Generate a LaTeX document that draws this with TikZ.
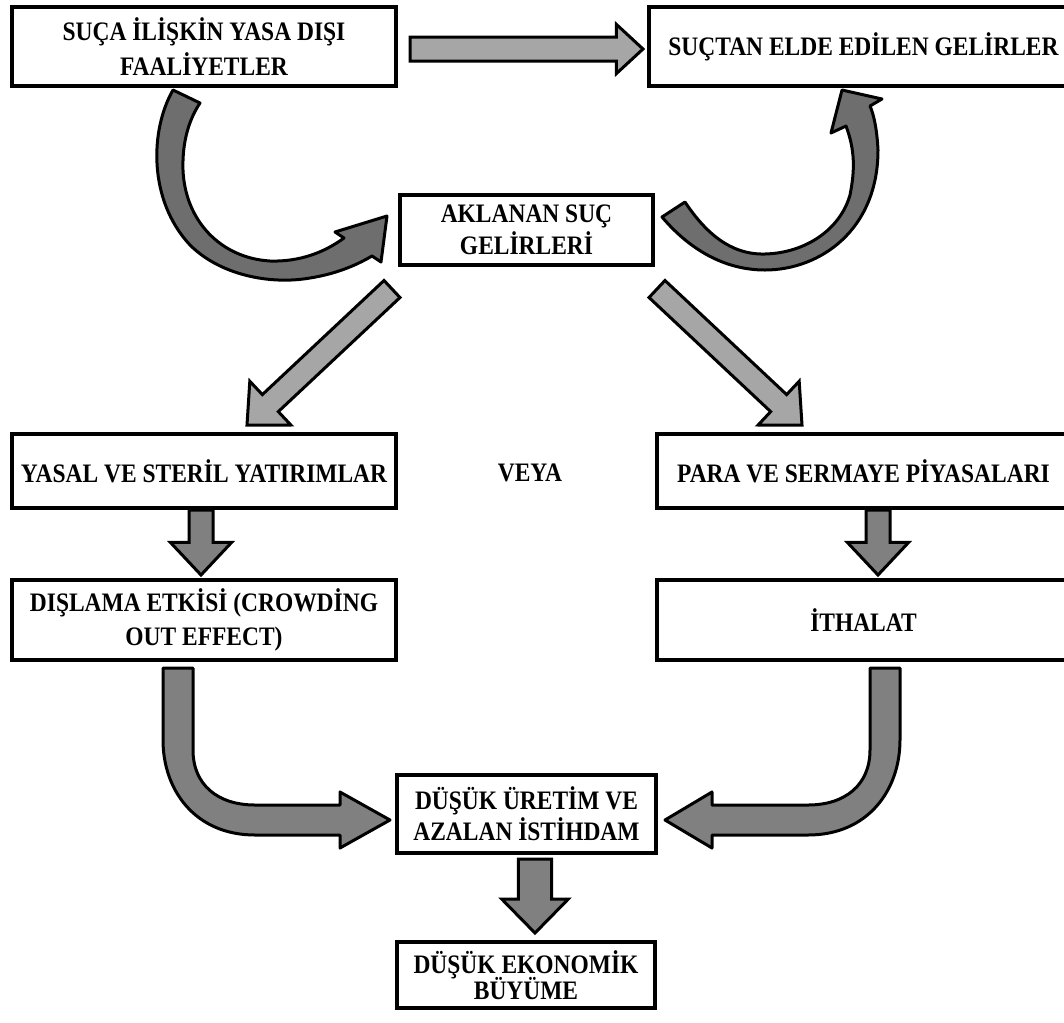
\documentclass[tikz,border=0pt]{standalone}
\usepackage{fontspec}
\setmainfont{Liberation Serif}[FakeStretch=0.88]
\usetikzlibrary{calc}
\definecolor{lightfill}{HTML}{A6A6A6}
\definecolor{midfill}{HTML}{808080}
\definecolor{darkfill}{HTML}{6E6E6E}
% #1 style, #2 from, #3 to, #4 shaft half width, #5 head half width, #6 head length
\newcommand\blkarrow[6]{%
  \coordinate (ba-h) at ($(#3)!#6!(#2)$);
  \draw[#1] ($(#2)!#4!90:(#3)$) -- ($(ba-h)!#4!-90:(#2)$) -- ($(ba-h)!#5!-90:(#2)$) -- (#3)
    -- ($(ba-h)!#5!90:(#2)$) -- ($(ba-h)!#4!90:(#2)$) -- ($(#2)!#4!-90:(#3)$) -- cycle;
}
\begin{document}
\begin{tikzpicture}[x=0.75pt,y=-0.75pt,
  box/.style={draw, line width=3pt, fill=white, align=center, inner sep=0pt,
    font=\bfseries\fontsize{20}{24}\selectfont},
  plain/.style={align=center, inner sep=0pt, font=\bfseries\fontsize{20}{24}\selectfont},
  lightarrow/.style={draw, line width=2.25pt, fill=lightfill, line join=miter},
  midarrow/.style={draw, line width=2.25pt, fill=midfill, line join=miter},
  bendarrow/.style={draw, line width=2.25pt, fill=midfill, line join=round},
  curlarrow/.style={draw, line width=2.25pt, fill=darkfill, line join=round}]
\useasboundingbox (0,0) rectangle (1064,1022);

% boxes
\node[box, minimum width=288pt, minimum height=59.25pt] (b1) at (204,46.5)
  {SUÇA İLİŞKİN YASA DIŞI\\[2.25pt]FAALİYETLER};
\node[box, minimum width=321.75pt, minimum height=59.25pt] (b2) at (863.5,46.5)
  {SUÇTAN ELDE EDİLEN GELİRLER};
\node[box, minimum width=189.75pt, minimum height=52.5pt] (b3) at (526.5,230)
  {AKLANAN SUÇ\\GELİRLERİ};
\node[box, minimum width=288pt, minimum height=55.5pt] (b4) at (204,471)
  {YASAL VE STERİL YATIRIMLAR};
\node[plain] (veya) at (530,473) {VEYA};
\node[box, minimum width=309.75pt, minimum height=55.5pt] (b5) at (863.5,471)
  {PARA VE SERMAYE PİYASALARI};
\node[box, minimum width=288pt, minimum height=60pt] (b6) at (204,620)
  {DIŞLAMA ETKİSİ (CROWDİNG\\[1.5pt]OUT EFFECT)};
\node[box, minimum width=309.75pt, minimum height=60pt] (b7) at (863.5,620)
  {İTHALAT};
\node[box, minimum width=194.25pt, minimum height=58.5pt] (b8) at (526.5,814)
  {DÜŞÜK ÜRETİM VE\\[-0.75pt]AZALAN İSTİHDAM};
\node[box, minimum width=193.5pt, minimum height=49.5pt] (b9) at (526,975)
  {DÜŞÜK EKONOMİK\\[-4.5pt]BÜYÜME};

% straight block arrows
\coordinate (h1s) at ($(b1.east)+(12,2.5)$);
\coordinate (h1e) at ($(b2.west)+(-4,2.5)$);
\blkarrow{lightarrow}{h1s}{h1e}{9pt}{18.5pt}{20pt}

\coordinate (dls) at ($(b3.south west)+(-6,22)$);
\coordinate (dle) at ($(b4.north)+(43,-7)$);
\blkarrow{lightarrow}{dls}{dle}{8.75pt}{22.5pt}{24pt}

\coordinate (drs) at ($(b3.south east)+(2,22)$);
\coordinate (dre) at ($(b5.north)+(-61.5,-7)$);
\blkarrow{lightarrow}{drs}{dre}{8.75pt}{22.5pt}{24pt}

\coordinate (v1s) at ($(b4.south)+(-3,0)$);
\coordinate (v1e) at ($(b6.north)+(-3,-3)$);
\blkarrow{midarrow}{v1s}{v1e}{9pt}{23pt}{24.5pt}

\coordinate (v2s) at ($(b5.south)+(14.5,0)$);
\coordinate (v2e) at ($(b7.north)+(14.5,-3)$);
\blkarrow{midarrow}{v2s}{v2e}{9pt}{23pt}{24.5pt}

\coordinate (v3s) at ($(b8.south)+(8.5,4)$);
\coordinate (v3e) at ($(b9.north)+(9,-7)$);
\blkarrow{midarrow}{v3s}{v3e}{12.5pt}{25pt}{25.5pt}

% curved arrow: b1 -> b3
\draw[curlarrow] (173,90) .. controls (150,130) and (148,200) .. (190,245)
  .. controls (220,275) and (270,285) .. (310,278)
  .. controls (335,274) and (355,266) .. (372,256)
  -- (381,262) -- (387,216) -- (335,232) -- (344,238)
  .. controls (325,252) and (300,262) .. (270,261)
  .. controls (220,258) and (185,220) .. (183,170)
  .. controls (182,140) and (190,118) .. (200,103) -- cycle;

% curved arrow: b3 -> b2
\draw[curlarrow] (662,217) .. controls (690,250) and (725,270) .. (765,270)
  .. controls (820,270) and (878,230) .. (878,150)
  .. controls (877,130) and (874,115) .. (870,106)
  -- (882,99) -- (842,90) -- (831,133) -- (846,126)
  .. controls (855,150) and (855,170) .. (850,195)
  .. controls (840,230) and (805,253) .. (765,254)
  .. controls (730,255) and (705,232) .. (685,202) -- cycle;

% bent arrows into b8
\draw[bendarrow] (163,668) -- (163,740) .. controls (163,790) and (195,835) .. (255,835)
  -- (340,835) -- (340,848) -- (390,820) -- (340,792) -- (340,805) -- (255,805)
  .. controls (218,805) and (193,785) .. (193,750) -- (193,668) -- cycle;
\draw[bendarrow] (900,668) -- (900,740) .. controls (900,790) and (868,835) .. (808,835)
  -- (712,835) -- (712,848) -- (665,820) -- (712,792) -- (712,805) -- (808,805)
  .. controls (845,805) and (870,785) .. (870,750) -- (870,668) -- cycle;
\end{tikzpicture}
\end{document}
